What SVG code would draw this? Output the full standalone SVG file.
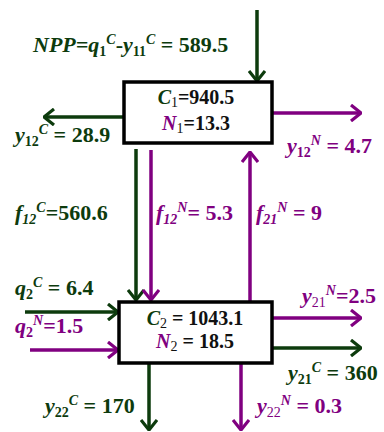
<svg xmlns="http://www.w3.org/2000/svg" width="384" height="432" viewBox="0 0 384 432">
<defs>
<style>
.g{stroke:#0d3b0d;fill:none;stroke-width:3.5}
.p{stroke:#800080;fill:none;stroke-width:3.5}
.box{fill:#fff;stroke:#000;stroke-width:3.5}
</style>
<marker id="ag" viewBox="0 0 12 18" refX="11" refY="9" markerWidth="12" markerHeight="18" markerUnits="userSpaceOnUse" orient="auto"><path d="M1,1 L11,9 L1,17" fill="none" stroke="#0d3b0d" stroke-width="3.2"/></marker>
<marker id="ap" viewBox="0 0 12 18" refX="11" refY="9" markerWidth="12" markerHeight="18" markerUnits="userSpaceOnUse" orient="auto"><path d="M1,1 L11,9 L1,17" fill="none" stroke="#800080" stroke-width="3.2"/></marker>
</defs>
<g id="connectors">
<line class="g" x1="257" y1="10" x2="257" y2="81" marker-end="url(#ag)"/>
<line class="g" x1="124" y1="117" x2="44" y2="117" marker-end="url(#ag)"/>
<line class="p" x1="272" y1="113" x2="361" y2="113" marker-end="url(#ap)"/>
<line class="g" x1="136" y1="149" x2="136" y2="300" marker-end="url(#ag)"/>
<line class="p" x1="151" y1="150" x2="151" y2="300" marker-end="url(#ap)"/>
<line class="p" x1="250" y1="302" x2="250" y2="152" marker-end="url(#ap)"/>
<line class="g" x1="25" y1="312" x2="118" y2="312" marker-end="url(#ag)"/>
<line class="p" x1="30" y1="350" x2="118" y2="350" marker-end="url(#ap)"/>
<line class="p" x1="272" y1="318" x2="361" y2="318" marker-end="url(#ap)"/>
<line class="g" x1="272" y1="348" x2="361" y2="348" marker-end="url(#ag)"/>
<line class="g" x1="149" y1="363" x2="149" y2="430" marker-end="url(#ag)"/>
<line class="p" x1="241" y1="363" x2="241" y2="430" marker-end="url(#ap)"/>
</g>
<g id="node1">
<rect class="box" x="124" y="82" width="148" height="61"/>
<text font-family="Liberation Serif" font-weight="bold" font-size="20" fill="#111" x="196" y="104" text-anchor="middle"><tspan fill="#0d3b0d" font-style="italic">C</tspan><tspan font-size="14" font-weight="normal" dy="3">1</tspan><tspan dy="-3">=940.5</tspan></text>
<text font-family="Liberation Serif" font-weight="bold" font-size="20" fill="#111" x="196" y="130" text-anchor="middle"><tspan fill="#800080" font-style="italic">N</tspan><tspan font-size="14" font-weight="normal" dy="3">1</tspan><tspan dy="-3">=13.3</tspan></text>
</g>
<g id="node2">
<rect class="box" x="119" y="302" width="153" height="61"/>
<text font-family="Liberation Serif" font-weight="bold" font-size="20" fill="#111" x="195" y="325" text-anchor="middle"><tspan fill="#0d3b0d" font-style="italic">C</tspan><tspan font-size="14" font-weight="normal" dy="3">2</tspan><tspan dy="-3"> = 1043.1</tspan></text>
<text font-family="Liberation Serif" font-weight="bold" font-size="20" fill="#111" x="195" y="348" text-anchor="middle"><tspan fill="#800080" font-style="italic">N</tspan><tspan font-size="14" font-weight="normal" dy="3">2</tspan><tspan dy="-3"> = 18.5</tspan></text>
</g>
<g id="labels">
<text font-family="Liberation Serif" font-weight="bold" font-size="22" fill="#0d3b0d" x="33" y="52"><tspan font-style="italic">NPP=q</tspan><tspan font-size="14" dy="4">1</tspan><tspan font-size="14" font-style="italic" dy="-12">C</tspan><tspan dy="8">-</tspan><tspan font-style="italic">y</tspan><tspan font-size="14" dy="4">11</tspan><tspan font-size="14" font-style="italic" dy="-12">C</tspan><tspan dy="8"> = 589.5</tspan></text>
<text font-family="Liberation Serif" font-weight="bold" font-size="22" fill="#0d3b0d" x="15" y="142"><tspan font-style="italic">y</tspan><tspan font-size="14" dy="4">12</tspan><tspan font-size="14" font-style="italic" dy="-12">C</tspan><tspan dy="8"> = 28.9</tspan></text>
<text font-family="Liberation Serif" font-weight="bold" font-size="22" fill="#800080" x="287" y="153"><tspan font-style="italic">y</tspan><tspan font-size="14" dy="4">12</tspan><tspan font-size="14" font-style="italic" dy="-12">N</tspan><tspan dy="8"> = 4.7</tspan></text>
<text font-family="Liberation Serif" font-weight="bold" font-size="22" fill="#0d3b0d" x="15" y="220"><tspan font-style="italic">f</tspan><tspan font-size="14" font-style="italic" dy="4">12</tspan><tspan font-size="14" font-style="italic" dy="-12">C</tspan><tspan dy="8">=560.6</tspan></text>
<text font-family="Liberation Serif" font-weight="bold" font-size="22" fill="#800080" x="156" y="220"><tspan font-style="italic">f</tspan><tspan font-size="14" font-style="italic" dy="4">12</tspan><tspan font-size="14" font-style="italic" dy="-12">N</tspan><tspan dy="8">= 5.3</tspan></text>
<text font-family="Liberation Serif" font-weight="bold" font-size="22" fill="#800080" x="256" y="220"><tspan font-style="italic">f</tspan><tspan font-size="14" font-style="italic" dy="4">21</tspan><tspan font-size="14" font-style="italic" dy="-12">N</tspan><tspan dy="8"> = 9</tspan></text>
<text font-family="Liberation Serif" font-weight="bold" font-size="22" fill="#0d3b0d" x="15" y="295"><tspan font-style="italic">q</tspan><tspan font-size="14" dy="4">2</tspan><tspan font-size="14" font-style="italic" dy="-12">C</tspan><tspan dy="8"> = 6.4</tspan></text>
<text font-family="Liberation Serif" font-weight="bold" font-size="22" fill="#800080" x="15" y="333"><tspan font-style="italic">q</tspan><tspan font-size="14" dy="4">2</tspan><tspan font-size="14" font-style="italic" dy="-12">N</tspan><tspan dy="8">=1.5</tspan></text>
<text font-family="Liberation Serif" font-weight="bold" font-size="22" fill="#800080" x="302" y="303"><tspan font-style="italic">y</tspan><tspan font-size="14" font-weight="normal" dy="4">21</tspan><tspan font-size="14" font-style="italic" dy="-12">N</tspan><tspan dy="8">=2.5</tspan></text>
<text font-family="Liberation Serif" font-weight="bold" font-size="22" fill="#0d3b0d" x="288" y="380"><tspan font-style="italic">y</tspan><tspan font-size="14" dy="4">21</tspan><tspan font-size="14" font-style="italic" dy="-12">C</tspan><tspan dy="8"> = 360</tspan></text>
<text font-family="Liberation Serif" font-weight="bold" font-size="22" fill="#0d3b0d" x="45" y="413"><tspan font-style="italic">y</tspan><tspan font-size="14" dy="4">22</tspan><tspan font-size="14" font-style="italic" dy="-12">C</tspan><tspan dy="8"> = 170</tspan></text>
<text font-family="Liberation Serif" font-weight="bold" font-size="22" fill="#800080" x="257" y="413"><tspan font-style="italic">y</tspan><tspan font-size="14" font-weight="normal" dy="4">22</tspan><tspan font-size="14" font-style="italic" dy="-12">N</tspan><tspan dy="8"> = 0.3</tspan></text>
</g>
</svg>
